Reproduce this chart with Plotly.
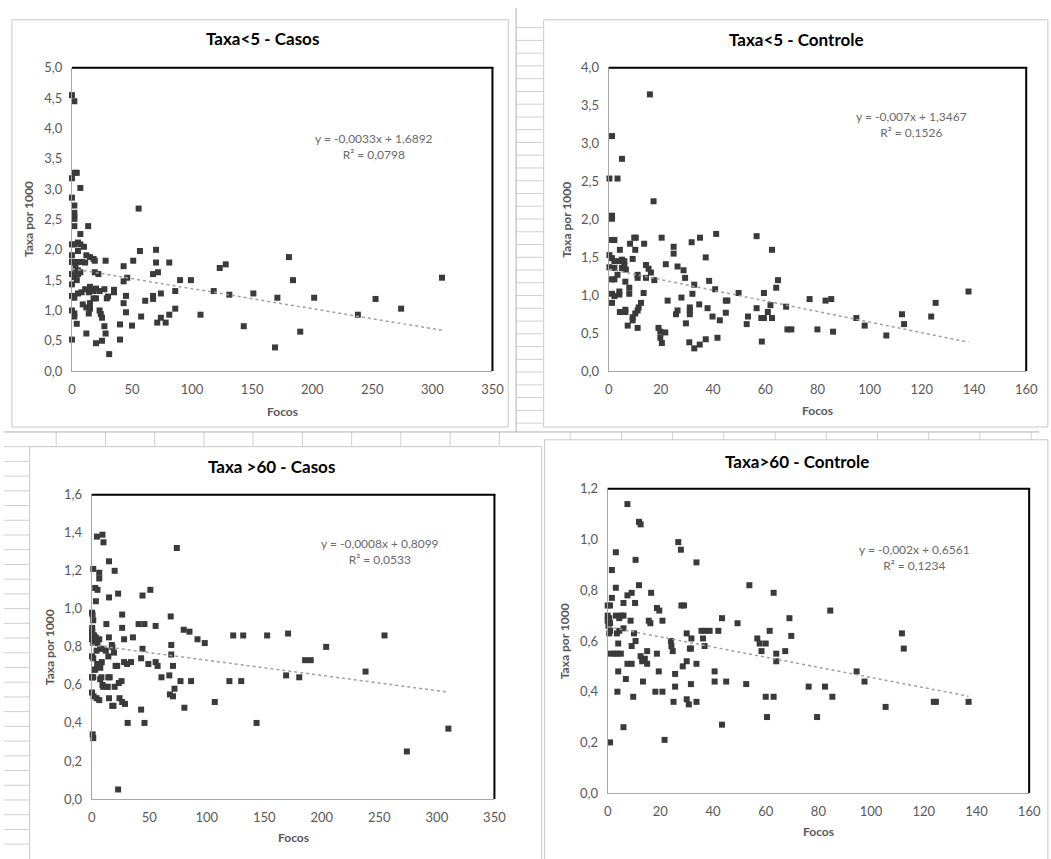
import plotly.graph_objects as go

W, H = 1051, 859

# ---------------- data ----------------
titles = ["Taxa<5 - Casos", "Taxa<5 - Controle", "Taxa >60 - Casos", "Taxa>60 - Controle"]
equations = ["y = -0,0033x + 1,6892", "y = -0,007x + 1,3467", "y = -0,0008x + 0,8099", "y = -0,002x + 0,6561"]
r_squared = ["R² = 0,0798", "R² = 0,1526", "R² = 0,0533", "R² = 0,1234"]
slopes = [-0.0033, -0.007, -0.0008, -0.002]
intercepts = [1.6892, 1.3467, 0.8099, 0.6561]
x_max = [350, 160, 350, 160]
x_step = [50, 20, 50, 20]
y_max = [5.0, 4.0, 1.6, 1.2]
y_step = [0.5, 0.5, 0.2, 0.2]
x_label = "Focos"
y_label = "Taxa por 1000"

focos_lt5_casos = [0, 2, 2, 4, 0, 7, 0, 2, 2, 2, 2, 2, 13.5, 7, 0, 2, 5, 7, 10, 0, 5, 12, 15, 18, 19, 0, 2, 5, 8, 11, 28, 3, 5, 7, 0, 2, 5, 4, 19, 22, 0,
                   43, 51, 56.6, 55.5, 70, 70, 81, 67.5, 71.6, 43, 46, 90, 99, 86, 118, 123, 128, 131,
                   0, 2, 5, 8, 11, 14, 15, 18, 20, 23, 27, 9, 12, 15, 18, 20, 29, 30, 35, 35, 0, 2, 2, 14, 15, 23, 24, 25, 4, 27, 28, 25, 20, 12, 0, 31, 40, 40, 43, 45, 45, 50, 57.6, 61, 67.5, 67.5, 74, 71, 74, 78, 81, 86, 107,
                   143, 151, 169, 171, 180.6, 184, 190, 201.6, 238, 252.7, 274, 308]
taxa_lt5_casos = [4.55, 4.45, 3.27, 3.27, 3.18, 3.02, 2.86, 2.73, 2.61, 2.55, 2.51, 2.39, 2.39, 2.26, 2.09, 2.09, 2.12, 2.09, 2.05, 1.91, 1.98, 1.91, 1.88, 1.85, 1.82, 1.80, 1.79, 1.80, 1.80, 1.79, 1.82, 1.70, 1.66, 1.63, 1.60, 1.55, 1.60, 1.50, 1.63, 1.60, 1.43,
                  1.73, 1.82, 1.98, 2.68, 2.0, 1.79, 1.79, 1.60, 1.63, 1.48, 1.54, 1.50, 1.50, 1.32, 1.32, 1.70, 1.76, 1.26,
                  1.24, 1.21, 1.28, 1.30, 1.35, 1.30, 1.39, 1.32, 1.36, 1.32, 1.35, 1.10, 1.05, 1.12, 1.20, 1.20, 1.20, 1.23, 1.30, 1.34, 1.00, 0.95, 0.90, 0.95, 1.03, 1.00, 0.94, 0.88, 0.78, 0.74, 0.62, 0.50, 0.46, 0.62, 0.52, 0.28, 0.77, 0.52, 1.12, 1.24, 0.97, 0.75, 0.90, 1.16, 1.19, 1.24, 1.28, 0.80, 0.88, 0.80, 0.93, 1.03, 0.93,
                  0.74, 1.28, 0.39, 1.21, 1.88, 1.50, 0.65, 1.21, 0.93, 1.19, 1.03, 1.54]

focos_lt5_controle = [15.8, 1.3, 5.1, 0.3, 3.4, 17.2, 1.3, 1.3, 1.3, 2.2, 9.8, 10.4, 13.6, 8.2, 10.2, 4.3, 20.3, 24.9, 24.9, 31.8, 35, 37.2, 41.2,
                      0.3, 1.3, 2.2, 0.3, 2.2, 4.1, 5.1, 6, 6, 5.1, 6.6, 9.2, 3.4, 2.2, 1.3,
                      14.3, 15.3, 16.2, 11.1, 11.1, 14.3, 17.5, 6.4, 7.9, 7.9, 1.3, 2.2, 4.1, 4.1, 1.3, 4.3, 6.4, 6.4, 7.3, 9.2, 9.2, 10.2, 11.1, 11.5, 12.4, 11.1, 13.4, 21.9, 22.6, 19.1, 19.8, 21.7, 19.8, 20.4,
                      26.4, 28.7, 29.3, 32.8, 32.1, 27.9, 26.4, 25.8, 29.6, 31.1, 31.1, 31.1, 30.9, 32.8, 34.9, 37.2, 41.7, 34.7, 38.5, 40.8, 37.9, 39.8, 42.6, 44.9, 45.5, 44.9,
                      49.8, 52.9, 53.4, 56.7, 56.7, 58.5, 59.5, 58.7, 59.5, 61, 62, 62.6, 62.6, 64.2, 64.9, 68, 68.5, 70, 77, 80, 83.1, 85.3, 86, 94.9, 98.1, 106.4, 112.4, 113.2, 123.6, 125.3, 137.9]
taxa_lt5_controle = [3.65, 3.10, 2.80, 2.54, 2.54, 2.24, 2.05, 2.01, 1.73, 1.73, 1.76, 1.76, 1.68, 1.68, 1.60, 1.60, 1.76, 1.64, 1.55, 1.70, 1.76, 1.50, 1.81,
                     1.53, 1.49, 1.45, 1.37, 1.36, 1.45, 1.47, 1.45, 1.40, 1.36, 1.34, 1.48, 1.27, 1.21, 1.21,
                     1.40, 1.35, 1.30, 1.27, 1.23, 1.23, 1.20, 1.18, 1.10, 1.02, 1.02, 0.99, 1.01, 1.05, 0.90, 0.78, 0.78, 0.81, 0.60, 0.67, 0.71, 0.76, 0.80, 0.84, 0.90, 0.57, 1.03, 1.41, 0.93, 0.57, 0.52, 0.51, 0.44, 0.37,
                     1.38, 1.33, 1.23, 1.14, 1.02, 0.97, 0.80, 0.75, 0.63, 0.84, 0.80, 0.75, 0.38, 0.30, 0.35, 0.42, 0.44, 0.88, 1.19, 1.08, 0.83, 0.72, 0.67, 0.93, 0.93, 0.77,
                     1.03, 0.62, 0.72, 1.78, 0.83, 0.70, 0.70, 0.39, 1.03, 0.78, 0.87, 1.60, 0.70, 1.10, 1.20, 0.85, 0.55, 0.55, 0.95, 0.55, 0.93, 0.95, 0.52, 0.70, 0.60, 0.47, 0.75, 0.62, 0.72, 0.90, 1.05]

focos_gt60_casos = [4.6, 9.4, 10.3, 15.1, 20, 1.4, 6.6, 6.6, 3.1, 5.1, 3.7, 15.1, 23, 44.2, 51, 74, 0.3, 0.8, 1.4, 12.8, 26.5, 26.5, 40.8, 45.9, 55.6, 68.7, 80, 85, 92, 98.3,
                    123, 131.7, 152.5, 170.7, 203.8, 254.5, 185.5, 190.4, 238, 169, 180.4, 130, 119.7, 107, 143.3, 273.9, 310, 80.6, 86.4, 77.2, 69.2, 69.2, 70.7, 72, 67.5, 70.7, 68, 60.7,
                    55.6, 57.3, 49.3, 44.2, 43, 45.9, 43, 31.3, 23, 0.9, 1.4, 26.5, 24.2, 23.6, 20.8, 22.2, 28.2, 30.8, 34.2, 35.9, 28.2, 15, 17.5, 14.5, 19.4, 18, 20, 14.5, 15.1, 17.9,
                    12.8, 9.4, 7.4, 6.6, 4.3, 6.6, 0.3, 1.7, 0.3, 1.4, 0.3, 1.4, 3.1, 0.3, 1.4, 0.3, 1.4, 3.7, 6.6, 5.1, 7.4, 4.3, 10.3, 12.3, 8.8, 7.4,
                    0.5, 0.5, 2, 2, 4.8, 7.5, 0.5, 8.5, 15.7, 26, 10, 14, 29, 19]
taxa_gt60_casos = [1.38, 1.39, 1.35, 1.25, 1.20, 1.21, 1.19, 1.16, 1.11, 1.10, 1.04, 1.06, 1.08, 1.07, 1.10, 1.32, 0.98, 0.97, 0.94, 0.92, 0.97, 0.90, 0.92, 0.92, 0.91, 0.96, 0.89, 0.88, 0.84, 0.82,
                   0.86, 0.86, 0.86, 0.87, 0.80, 0.86, 0.73, 0.73, 0.67, 0.65, 0.64, 0.62, 0.62, 0.51, 0.40, 0.25, 0.37, 0.48, 0.62, 0.62, 0.81, 0.76, 0.70, 0.58, 0.65, 0.54, 0.55, 0.64,
                   0.72, 0.70, 0.71, 0.79, 0.74, 0.40, 0.47, 0.40, 0.05, 0.34, 0.32, 0.51, 0.53, 0.61, 0.70, 0.70, 0.72, 0.71, 0.72, 0.85, 0.84, 0.85, 0.81, 0.75, 0.77, 0.80, 0.59, 0.64, 0.53, 0.49,
                   0.59, 0.60, 0.63, 0.70, 0.53, 0.52, 0.56, 0.54, 0.64, 0.64, 0.75, 0.74, 0.68, 0.87, 0.86, 0.84, 0.82, 0.85, 0.84, 0.82, 0.79, 0.78, 0.79, 0.78, 0.72, 0.71,
                   0.90, 0.88, 0.86, 0.68, 0.71, 0.69, 0.64, 0.64, 0.64, 0.62, 0.59, 0.59, 0.50, 0.49]

focos_gt60_controle = [7.5, 11.9, 12.5, 26.8, 27.8, 33.7, 10.6, 3.1, 1.6, 3.1, 11.9, 16.5, 7.5, 9.1, 6, 10.4, 0, 0.9, 1.6, 28, 29, 18.7, 19.6, 0, 0.6, 0, 0.9, 0.3, 0.9, 0.6,
                       3.1, 5, 6, 4.4, 8.7, 15.6, 16.2, 20.8, 6, 4.4, 3.5, 10, 30, 31.8, 35.6, 36.8, 38.7, 42, 43.4, 49.3, 53.8, 63, 61.5, 56.8, 57.7, 60, 58.4, 64, 64, 67.4, 69, 69.7,
                       84.5, 94.5, 97.5, 105.5, 111.7, 112.4, 123.8, 124.6, 137, 76.3, 82.5, 85.3, 79.5, 63, 60, 60.5, 52.6, 45, 40.6, 40.6, 43.4, 36.2, 36.8, 33.7, 31.6, 31.2, 30, 28.5,
                       31.6, 30, 30.8, 33.7, 25, 25.6, 25.6, 24, 24.2, 24.7, 20.8, 18.1, 19.4, 18.7, 15, 14.1, 15, 13.4, 12.5, 13.1, 9.1, 10.6, 7.5, 9.1, 6.9, 4, 3.7, 9.7, 6, 21.6, 0.9,
                       1.2, 2.5, 3.7, 5, 4]
taxa_gt60_controle = [1.14, 1.07, 1.06, 0.99, 0.96, 0.91, 0.92, 0.95, 0.88, 0.81, 0.82, 0.79, 0.78, 0.79, 0.75, 0.75, 0.74, 0.74, 0.77, 0.74, 0.74, 0.73, 0.72, 0.70, 0.69, 0.68, 0.67, 0.66, 0.64, 0.63,
                      0.70, 0.70, 0.70, 0.69, 0.68, 0.68, 0.67, 0.68, 0.65, 0.64, 0.63, 0.63, 0.63, 0.61, 0.64, 0.64, 0.64, 0.64, 0.69, 0.67, 0.82, 0.79, 0.64, 0.61, 0.59, 0.59, 0.56, 0.55, 0.52, 0.56, 0.69, 0.62,
                      0.72, 0.48, 0.44, 0.34, 0.63, 0.57, 0.36, 0.36, 0.36, 0.42, 0.42, 0.38, 0.30, 0.38, 0.38, 0.30, 0.43, 0.44, 0.48, 0.44, 0.27, 0.61, 0.58, 0.51, 0.57, 0.57, 0.52, 0.50,
                      0.43, 0.37, 0.35, 0.36, 0.36, 0.47, 0.42, 0.60, 0.58, 0.56, 0.40, 0.40, 0.48, 0.55, 0.56, 0.53, 0.51, 0.44, 0.54, 0.52, 0.58, 0.60, 0.51, 0.51, 0.45, 0.48, 0.40, 0.38, 0.26, 0.21, 0.20,
                      0.55, 0.55, 0.55, 0.55, 0.59]

xs = [focos_lt5_casos, focos_lt5_controle, focos_gt60_casos, focos_gt60_controle]
ys = [taxa_lt5_casos, taxa_lt5_controle, taxa_gt60_casos, taxa_gt60_controle]

# ---------------- layout geometry (pixels) ----------------
plot_px = [(69, 61, 496, 370), (614, 61, 1038, 370), (89, 496, 498, 806), (613, 490, 1041, 800)]
title_px = [(262, 31), (805, 32), (272, 467), (805, 462)]
eq_px = [(376, 132), (922, 110), (382, 545), (925, 551)]
xlab_py = [411, 410, 845, 839]
ylab_px = [25, 571, 47, 570]


def px(x):
    return x / W


def py(y):
    return 1 - y / H


GREY_TXT = "#595959"
FONT = "Lato"

fig = go.Figure()
shapes = []
annotations = []

# spreadsheet background grid
GRID = "#d0d0d0"
for y in range(20, 432, 13):
    shapes.append(dict(type="line", xref="paper", yref="paper", x0=px(520), x1=px(548), y0=py(y), y1=py(y), line=dict(color=GRID, width=1)))
for y in range(447, 860, 15):
    shapes.append(dict(type="line", xref="paper", yref="paper", x0=0, x1=px(26), y0=py(y), y1=py(y), line=dict(color=GRID, width=1)))
for x in range(53, 545, 50):
    shapes.append(dict(type="line", xref="paper", yref="paper", x0=px(x), x1=px(x), y0=py(432), y1=py(447), line=dict(color=GRID, width=1)))
for x in range(575, 1051, 52):
    shapes.append(dict(type="line", xref="paper", yref="paper", x0=px(x), x1=px(x), y0=py(432), y1=py(440), line=dict(color=GRID, width=1)))
for (x0, y0, x1, y1) in [(8, 12, 512, 427), (548, 12, 1060, 427), (26, 447, 546, 870), (549, 440, 1060, 870)]:
    shapes.append(dict(type="rect", xref="paper", yref="paper", x0=px(x0), x1=px(x1), y0=py(y1), y1=py(y0),
                       line=dict(color="#c8c8c8", width=1), fillcolor="white", layer="below"))
shapes.append(dict(type="line", xref="paper", yref="paper", x0=px(520), x1=px(520), y0=py(0), y1=py(432), line=dict(color="#b0b0b0", width=1)))
shapes.append(dict(type="line", xref="paper", yref="paper", x0=0, x1=1, y0=py(432), y1=py(432), line=dict(color="#b0b0b0", width=1)))

for i in range(4):
    n = "" if i == 0 else str(i + 1)
    xa, ya = "x" + n, "y" + n
    l, t, r, b = plot_px[i]
    fig.add_trace(go.Scatter(x=xs[i], y=ys[i], mode="markers", xaxis=xa, yaxis=ya, cliponaxis=False,
                             marker=dict(symbol="square", size=6, color="#3a3a3a"), showlegend=False))
    tx = [min(xs[i]), max(xs[i])]
    fig.add_trace(go.Scatter(x=tx, y=[slopes[i] * v + intercepts[i] for v in tx], mode="lines", xaxis=xa, yaxis=ya,
                             line=dict(color="#a0a0a0", width=1.5, dash="dot"), showlegend=False))
    fig.layout["xaxis" + n] = dict(domain=[px(l), px(r)], range=[0, x_max[i]], dtick=x_step[i], anchor=ya,
                                   showgrid=False, zeroline=False, showline=True, linecolor="#a6a6a6", linewidth=1,
                                   ticks="", ticklabelstandoff=6, tickfont=dict(family=FONT, size=13, color=GREY_TXT))
    fig.layout["yaxis" + n] = dict(domain=[py(b), py(t)], range=[0, y_max[i]], dtick=y_step[i], anchor=xa,
                                   showgrid=False, zeroline=False, showline=True, linecolor="#a6a6a6", linewidth=1,
                                   ticks="", ticklabelstandoff=6, tickformat=".1f", tickfont=dict(family=FONT, size=13, color=GREY_TXT))
    # top / right border of plot area
    shapes.append(dict(type="line", xref="paper", yref="paper", x0=px(l), x1=px(r) + 0.001, y0=py(t), y1=py(t), line=dict(color="black", width=2)))
    shapes.append(dict(type="line", xref="paper", yref="paper", x0=px(r), x1=px(r), y0=py(b), y1=py(t), line=dict(color="black", width=2)))
    shapes.append(dict(type="rect", xref="paper", yref="paper", x0=px(l), x1=px(r), y0=py(b), y1=py(t),
                       line=dict(width=0), fillcolor="white", layer="below"))

    annotations.append(dict(text="<b>" + titles[i].replace("<", "&lt;").replace(">", "&gt;") + "</b>", x=px(title_px[i][0]), y=py(title_px[i][1]),
                            xref="paper", yref="paper", showarrow=False, font=dict(family=FONT, size=17, color="black"),
                            xanchor="center", yanchor="middle"))
    annotations.append(dict(text=equations[i] + "<br>" + r_squared[i], x=px(eq_px[i][0]), y=py(eq_px[i][1] - 9),
                            xref="paper", yref="paper", showarrow=False, font=dict(family=FONT, size=12, color="#6a6a6a"),
                            xanchor="center", yanchor="top", align="center"))
    annotations.append(dict(text="<b>" + x_label + "</b>", x=px((l + r) / 2), y=py(xlab_py[i]), xref="paper", yref="paper",
                            showarrow=False, font=dict(family=FONT, size=12, color=GREY_TXT), xanchor="center", yanchor="middle"))
    annotations.append(dict(text="<b>" + y_label + "</b>", x=px(ylab_px[i]), y=py((t + b) / 2), xref="paper", yref="paper",
                            showarrow=False, textangle=-90, font=dict(family=FONT, size=12, color=GREY_TXT),
                            xanchor="center", yanchor="middle"))

fig.update_layout(width=W, height=H, margin=dict(l=0, r=0, t=0, b=0), paper_bgcolor="white", plot_bgcolor="rgba(0,0,0,0)",
                  separators=",.", shapes=shapes, annotations=annotations, showlegend=False)

fig.write_html("out.html", config={"displayModeBar": False},
               post_script="document.body.style.margin='0';document.body.style.overflow='hidden';")
